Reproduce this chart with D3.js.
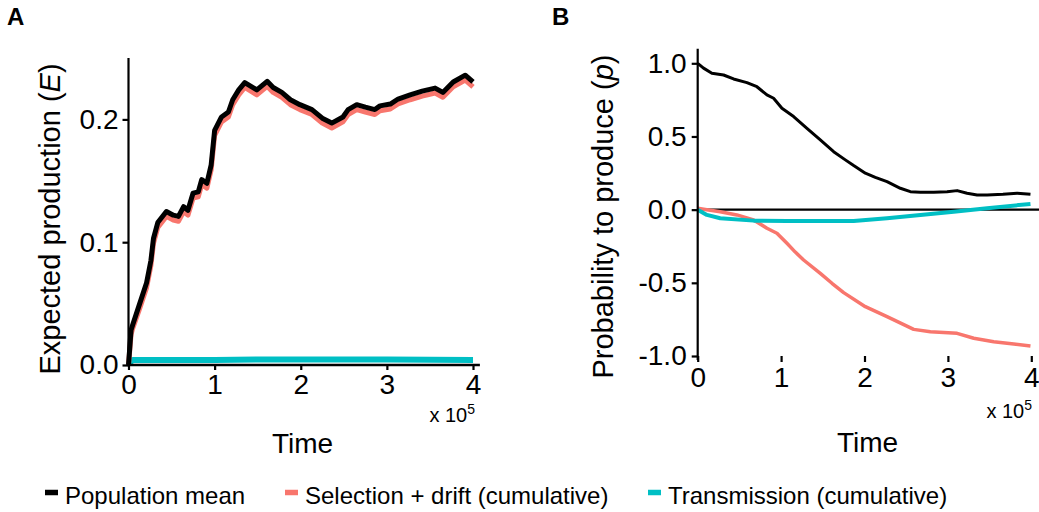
<!DOCTYPE html>
<html>
<head>
<meta charset="utf-8">
<script src="https://cdn.jsdelivr.net/npm/d3@7"></script>
<style>
  html, body { margin: 0; padding: 0; background: #fff; }
  svg { display: block; font-family: "Liberation Sans", Arial, sans-serif; }
</style>
</head>
<body>
<svg id="chart" width="1039" height="512"></svg>
<script>
// ---------- DATA ----------
// Panel A: time (x 10^5) and expected production E
const timeA = [0, 0.03, 0.05, 0.13, 0.21, 0.26, 0.29, 0.34, 0.44, 0.52, 0.58, 0.64, 0.69, 0.75, 0.81, 0.85, 0.91, 0.96, 1.0, 1.08, 1.16, 1.21, 1.28, 1.35, 1.49, 1.61, 1.68, 1.78, 1.88, 1.99, 2.13, 2.25, 2.36, 2.49, 2.55, 2.65, 2.75, 2.86, 2.92, 3.04, 3.13, 3.27, 3.41, 3.56, 3.65, 3.77, 3.91, 4.0];
const meanA = [0, 0.0285, 0.033, 0.05, 0.067, 0.085, 0.103, 0.116, 0.125, 0.122, 0.121, 0.129, 0.126, 0.140, 0.141, 0.151, 0.148, 0.163, 0.191, 0.202, 0.206, 0.216, 0.224, 0.230, 0.224, 0.231, 0.226, 0.222, 0.216, 0.212, 0.208, 0.201, 0.197, 0.202, 0.208, 0.212, 0.210, 0.208, 0.211, 0.2125, 0.2166, 0.220, 0.223, 0.2255, 0.222, 0.2305, 0.236, 0.2305];
const selA  = [0, 0.025, 0.030, 0.046, 0.063, 0.081, 0.099, 0.112, 0.121, 0.118, 0.117, 0.125, 0.122, 0.136, 0.137, 0.147, 0.144, 0.159, 0.187, 0.198, 0.202, 0.212, 0.220, 0.226, 0.220, 0.227, 0.222, 0.218, 0.212, 0.208, 0.204, 0.197, 0.193, 0.198, 0.204, 0.208, 0.206, 0.204, 0.207, 0.2085, 0.2126, 0.216, 0.219, 0.2215, 0.218, 0.2265, 0.232, 0.2265];
const timeTrA = [0, 0.05, 0.5, 1.0, 1.5, 2.0, 2.5, 3.0, 3.5, 4.0];
const transA  = [0.001, 0.004, 0.004, 0.004, 0.0045, 0.0045, 0.0045, 0.0045, 0.0042, 0.004];

// Panel B: time (x 10^5) and probability to produce p
const timeMeanB = [0, 0.07, 0.17, 0.31, 0.43, 0.59, 0.71, 0.83, 0.91, 1.01, 1.15, 1.31, 1.47, 1.63, 1.77, 1.87, 2.01, 2.13, 2.27, 2.43, 2.55, 2.67, 2.83, 2.99, 3.11, 3.23, 3.35, 3.47, 3.66, 3.83, 3.99];
const meanB = [1.0, 0.967, 0.932, 0.92, 0.893, 0.868, 0.84, 0.784, 0.761, 0.693, 0.636, 0.556, 0.476, 0.396, 0.34, 0.301, 0.249, 0.221, 0.191, 0.146, 0.123, 0.119, 0.119, 0.123, 0.13, 0.112, 0.1, 0.1, 0.105, 0.112, 0.105];
const timeSelB = [0, 0.11, 0.27, 0.47, 0.67, 0.83, 0.95, 1.07, 1.17, 1.27, 1.47, 1.61, 1.75, 2.01, 2.27, 2.59, 2.79, 3.11, 3.31, 3.55, 3.79, 3.99];
const selB = [0.01, 0.0, -0.014, -0.036, -0.07, -0.127, -0.161, -0.23, -0.29, -0.344, -0.435, -0.503, -0.567, -0.663, -0.731, -0.818, -0.834, -0.845, -0.879, -0.902, -0.918, -0.932];
const timeTrB = [0, 0.11, 0.27, 0.67, 1.07, 1.47, 1.87, 2.27, 2.67, 3.07, 3.47, 3.99];
const transB = [0, -0.036, -0.059, -0.075, -0.077, -0.077, -0.077, -0.059, -0.036, -0.014, 0.01, 0.039];

const xTicks = [0, 1, 2, 3, 4];
const yTicksA = [0, 0.1, 0.2];
const yTicksB = [-1, -0.5, 0, 0.5, 1];
const seriesNames = ["Population mean", "Selection + drift (cumulative)", "Transmission (cumulative)"];
const seriesColors = ["#000000", "#F8766D", "#00BFC4"];

// ---------- DRAW ----------
const svg = d3.select("#chart");
const FONT = 28;

function styleAxis(g) {
  g.selectAll(".domain").remove();
  g.selectAll(".tick line").attr("stroke", "#000").attr("stroke-width", 2.2);
  g.selectAll(".tick text").attr("fill", "#000").attr("font-size", FONT)
    .attr("font-family", "'Liberation Sans', Arial, sans-serif");
}

function linePath(g, xs, ys, x, y, color, w) {
  const data = xs.map((t, i) => [t, ys[i]]);
  g.append("path")
    .datum(data)
    .attr("fill", "none")
    .attr("stroke", color)
    .attr("stroke-width", w)
    .attr("stroke-linejoin", "round")
    .attr("stroke-linecap", "butt")
    .attr("d", d3.line().x(d => x(d[0])).y(d => y(d[1])));
}

// ----- Panel A -----
const xA = d3.scaleLinear().domain([0, 4]).range([128.5, 473]);
const yA = d3.scaleLinear().domain([0, 0.25]).range([365, 58]);
const gA = svg.append("g");

linePath(gA, timeTrA, transA, xA, yA, seriesColors[2], 6);
linePath(gA, timeA, selA, xA, yA, seriesColors[1], 5);
linePath(gA, timeA, meanA, xA, yA, seriesColors[0], 5);

// axis lines
gA.append("line").attr("x1", xA(0)).attr("x2", xA(0)).attr("y1", yA(0.25)).attr("y2", yA(0) + 1)
  .attr("stroke", "#000").attr("stroke-width", 2.2);
gA.append("line").attr("x1", xA(0) - 1).attr("x2", xA(4.08)).attr("y1", yA(0)).attr("y2", yA(0))
  .attr("stroke", "#000").attr("stroke-width", 2.4);

gA.append("g").attr("transform", `translate(0,${yA(0)})`)
  .call(d3.axisBottom(xA).tickValues(xTicks).tickSize(5).tickPadding(4).tickFormat(d3.format("d")))
  .call(styleAxis);
gA.append("g").attr("transform", `translate(${xA(0)},0)`)
  .call(d3.axisLeft(yA).tickValues(yTicksA).tickSize(6).tickPadding(4).tickFormat(d => d.toFixed(1)))
  .call(styleAxis);

// ----- Panel B -----
const xB = d3.scaleLinear().domain([0, 4]).range([697.7, 1031.3]);
const yB = d3.scaleLinear().domain([-1, 1]).range([356, 63.3]);
const gB = svg.append("g");

// zero reference line
gB.append("line").attr("x1", xB(0)).attr("x2", 1039).attr("y1", yB(0)).attr("y2", yB(0))
  .attr("stroke", "#000").attr("stroke-width", 2.2);

linePath(gB, timeSelB, selB, xB, yB, seriesColors[1], 3.5);
linePath(gB, timeTrB, transB, xB, yB, seriesColors[2], 4);
linePath(gB, timeMeanB, meanB, xB, yB, seriesColors[0], 3);

gB.append("line").attr("x1", xB(0)).attr("x2", xB(0)).attr("y1", yB(1.1)).attr("y2", yB(-1) + 4)
  .attr("stroke", "#000").attr("stroke-width", 2.2);

gB.append("g").attr("transform", `translate(0,${yB(-1)})`)
  .call(d3.axisBottom(xB).tickValues(xTicks).tickSize(6).tickPadding(5).tickFormat(d3.format("d")))
  .call(styleAxis);
gB.append("g").attr("transform", `translate(${xB(0)},0)`)
  .call(d3.axisLeft(yB).tickValues(yTicksB).tickSize(6).tickPadding(5).tickFormat(d => d.toFixed(1)))
  .call(styleAxis);

// ----- Titles and labels -----
function txt(x, y, s, size, anchor, weight) {
  return svg.append("text").attr("x", x).attr("y", y).attr("font-size", size)
    .attr("text-anchor", anchor || "start").attr("font-weight", weight || "normal")
    .attr("fill", "#000").text(s);
}
txt(7, 25, "A", 24, "start", "bold");
txt(552, 25, "B", 24, "start", "bold");

txt(302.5, 453, "Time", FONT, "middle");
txt(867.5, 452, "Time", FONT, "middle");

function sci(xRight, y) {
  const t = svg.append("text").attr("x", xRight).attr("y", y).attr("font-size", 20)
    .attr("text-anchor", "end").attr("fill", "#000");
  t.append("tspan").text("x 10");
  t.append("tspan").attr("font-size", 14).attr("dy", -8).text("5");
}
sci(475, 422);
sci(1032, 418);

// y titles (rotated)
const yt1 = svg.append("text").attr("transform", "translate(60,219) rotate(-90)")
  .attr("text-anchor", "middle").attr("font-size", 29).attr("fill", "#000");
yt1.append("tspan").text("Expected production (");
yt1.append("tspan").attr("font-style", "italic").text("E");
yt1.append("tspan").text(")");

const yt2 = svg.append("text").attr("transform", "translate(613,216.5) rotate(-90)")
  .attr("text-anchor", "middle").attr("font-size", 29).attr("fill", "#000");
yt2.append("tspan").text("Probability to produce (");
yt2.append("tspan").attr("font-style", "italic").text("p");
yt2.append("tspan").text(")");

// ----- Legend -----
const legendKeyX = [45, 285, 648];
const legend = svg.append("g");
seriesNames.forEach((name, i) => {
  legend.append("line").attr("x1", legendKeyX[i]).attr("x2", legendKeyX[i] + 13)
    .attr("y1", 492.5).attr("y2", 492.5).attr("stroke", seriesColors[i]).attr("stroke-width", 5.5);
  legend.append("text").attr("x", legendKeyX[i] + 20).attr("y", 504).attr("font-size", 24)
    .attr("fill", "#000").text(name);
});
</script>
</body>
</html>
